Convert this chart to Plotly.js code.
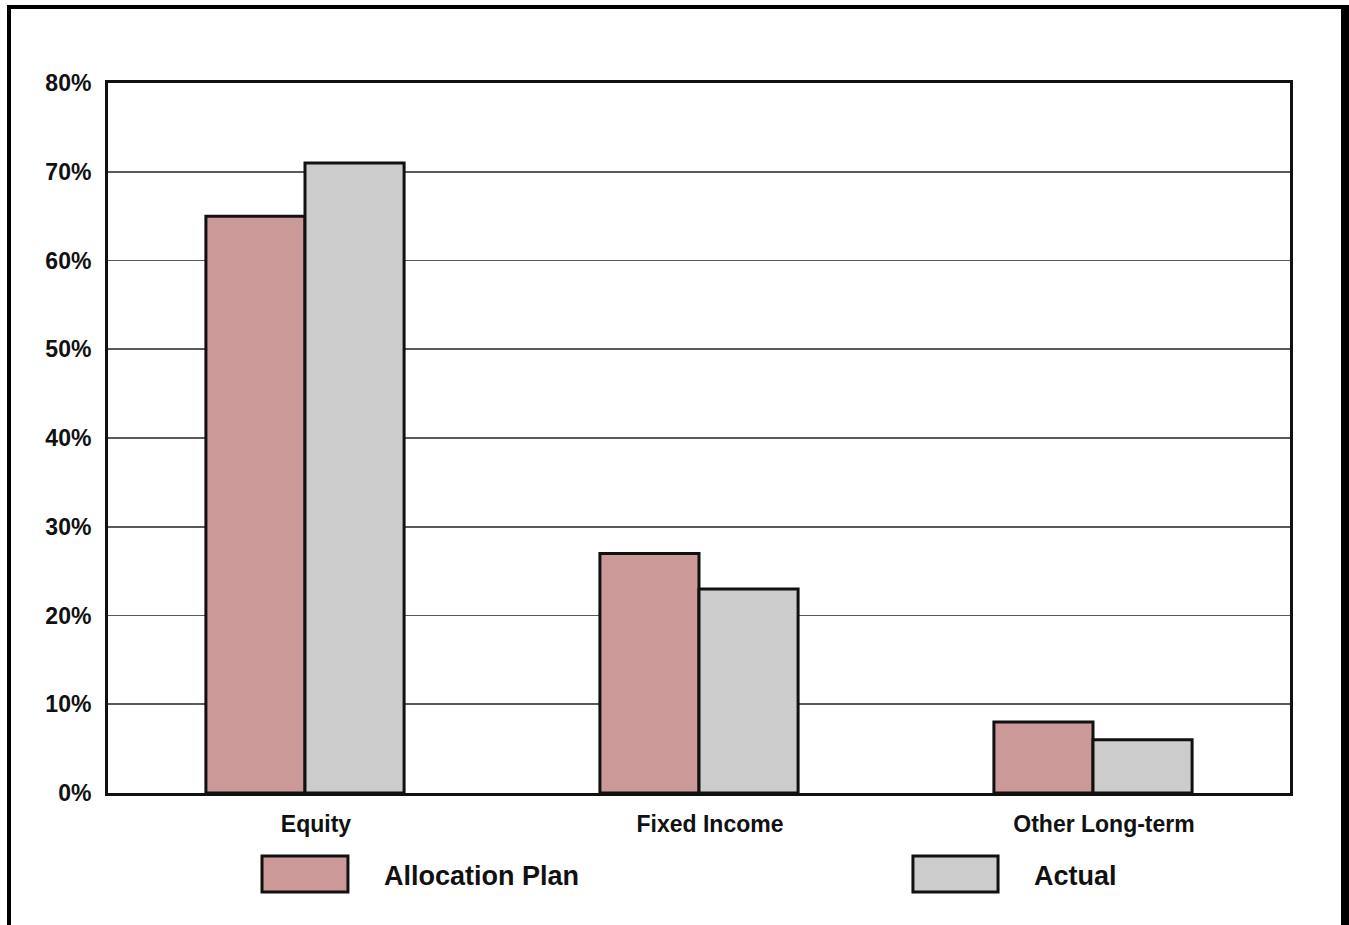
<!DOCTYPE html>
<html>
<head>
<meta charset="utf-8">
<script src="https://cdn.plot.ly/plotly-3.0.1.min.js"></script>
<style>
  html, body { margin: 0; padding: 0; background: #fff; }
  #wrap { position: relative; width: 1349px; height: 925px; overflow: hidden; }
  #chart { position: absolute; left: 0; top: 0; width: 1349px; height: 925px; }
  #frame {
    position: absolute; left: 7px; top: 5px; width: 1330px; height: 917px;
    border-left: 4px solid #000; border-top: 4px solid #000;
    border-right: 8px solid #000; border-bottom: 2px solid #bbb;
    pointer-events: none;
  }
</style>
</head>
<body>
<div id="wrap">
  <div id="chart"></div>
  <div id="frame"></div>
</div>
<script>
// Asset classes and their shares of the portfolio (fractions)
const categories = ["Equity", "Fixed Income", "Other Long-term"];
const seriesNames = ["Allocation Plan", "Actual"];
const allocationPlan = [0.65, 0.27, 0.08];
const actual = [0.71, 0.23, 0.06];
const yTickValues = [0, 0.1, 0.2, 0.3, 0.4, 0.5, 0.6, 0.7, 0.8];
const yTickLabels = ["0%", "10%", "20%", "30%", "40%", "50%", "60%", "70%", "80%"];

const fills = ["#cc9999", "#cccccc"];
const outline = { color: "#111", width: 3 };
const font = "Liberation Sans, Arial, sans-serif";

const traces = [allocationPlan, actual].map((vals, i) => ({
  type: "bar",
  name: seriesNames[i],
  x: categories,
  y: vals,
  marker: { color: fills[i], line: outline },
  showlegend: false,
  hoverinfo: "x+y"
}));

// Hand-built legend with large swatches below the axis
const legendSpots = [
  { x0: 0.1303, x1: 0.2030, tx: 0.2318 },
  { x0: 0.6810, x1: 0.7530, tx: 0.7817 }
];
const shapes = legendSpots.map((p, i) => ({
  type: "rect", xref: "paper", yref: "paper",
  x0: p.x0, x1: p.x1, y0: -0.0887, y1: -0.1394,
  fillcolor: fills[i], line: { color: "#111", width: 3 }
}));
const annotations = legendSpots.map((p, i) => ({
  xref: "paper", yref: "paper", x: p.tx, y: -0.117,
  xanchor: "left", yanchor: "middle", showarrow: false,
  text: seriesNames[i],
  font: { family: font, size: 27, color: "#111", weight: "bold" }
}));

const layout = {
  width: 1349, height: 925,
  margin: { l: 108, r: 59, t: 83, b: 132 },
  paper_bgcolor: "#fff", plot_bgcolor: "#fff",
  barmode: "group",
  bargap: 0.497, bargroupgap: 0,
  xaxis: {
    type: "category",
    showline: true, mirror: true, linecolor: "#111", linewidth: 3,
    showgrid: false, ticks: "",
    ticklabelshift: 11, ticklabelstandoff: 8,
    tickfont: { family: font, size: 23, color: "#111", weight: "bold" }
  },
  yaxis: {
    range: [0, 0.8],
    tickvals: yTickValues, ticktext: yTickLabels,
    showline: true, mirror: true, linecolor: "#111", linewidth: 3,
    showgrid: true, gridcolor: "#5a5a5a", gridwidth: 1.8,
    zeroline: false, ticks: "",
    ticklabelstandoff: 9,
    tickfont: { family: font, size: 23, color: "#111", weight: "bold" }
  },
  shapes: shapes,
  annotations: annotations,
  showlegend: false
};

Plotly.newPlot("chart", traces, layout, { displayModeBar: false, staticPlot: true });
</script>
</body>
</html>
